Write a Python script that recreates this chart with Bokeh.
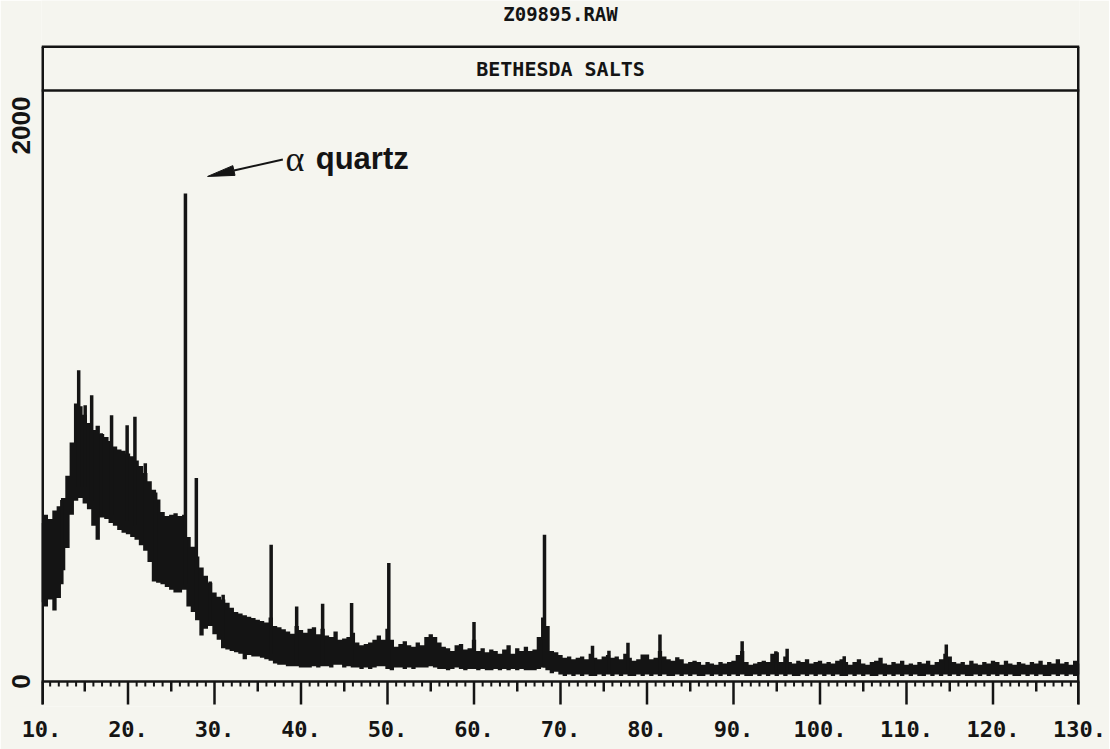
import math
from bokeh.plotting import figure
from bokeh.models import Range1d, FixedTicker, Span, Label
from bokeh.embed import file_html
from bokeh.resources import INLINE

BG = "#f5f5ef"
INK = "#141414"

scan_title = "Z09895.RAW"
sample_name = "BETHESDA SALTS"
annotation_symbol = "\u03b1"
annotation_text = "quartz"

# 2-theta sampling grid of the read-off envelope (degrees)
two_theta_start = 10.0
two_theta_step = 0.5

# upper edge of the dense noise band (counts), 10.0 .. 130.0 every 0.5 deg
upper = [
    570, 600, 585, 615, 630, 660, 740, 860, 1000, 990,
    960, 930, 905, 920, 890, 880, 865, 845, 835, 830,
    820, 810, 795, 775, 750, 720, 690, 655, 610, 595,
    600, 605, 595, 600, 520, 485, 450, 410, 380, 355,
    320, 305, 295, 283, 265, 250, 245, 238, 233, 228,
    222, 218, 212, 230, 200, 195, 188, 180, 172, 200,
    185, 175, 190, 195, 170, 190, 165, 160, 180, 150,
    155, 160, 175, 140, 130, 135, 140, 150, 165, 150,
    190, 150, 125, 135, 145, 130, 125, 140, 130, 160,
    170, 160, 140, 125, 120, 110, 130, 135, 115, 120,
    150, 110, 120, 105, 115, 110, 100, 115, 130, 100,
    120, 110, 125, 110, 115, 160, 230, 200, 110, 105,
    95, 85, 90, 80, 85, 90, 80, 100, 85, 80,
    90, 95, 85, 90, 80, 100, 85, 75, 80, 97,
    97, 80, 85, 110, 90, 80, 75, 87, 80, 65,
    70, 75, 70, 60, 70, 65, 60, 70, 65, 70,
    75, 95, 110, 70, 60, 65, 70, 75, 70, 100,
    105, 70, 90, 70, 65, 75, 70, 80, 65, 70,
    75, 65, 70, 65, 75, 80, 70, 60, 70, 80,
    65, 60, 70, 75, 85, 65, 60, 70, 65, 75,
    60, 65, 60, 70, 65, 75, 60, 70, 80, 100,
    90, 70, 65, 70, 60, 75, 65, 60, 70, 65,
    75, 70, 60, 75, 65, 60, 70, 65, 60, 70,
    65, 75, 60, 70, 65, 80, 65, 70, 60, 75,
    65,
]

# lower edge of the noise band (counts)
lower = [
    285, 270, 295, 255, 300, 400, 480, 600, 650, 660,
    640, 620, 560, 510, 590, 585, 570, 560, 545, 535,
    530, 520, 510, 490, 470, 430, 360, 355, 350, 340,
    330, 320, 320, 330, 270, 250, 220, 165, 190, 200,
    170, 150, 120, 115, 110, 105, 100, 80, 95, 90,
    90, 85, 80, 75, 65, 60, 60, 55, 55, 55,
    50, 50, 50, 55, 50, 55, 55, 50, 60, 60,
    50, 55, 50, 50, 45, 50, 45, 50, 55, 55,
    45, 40, 50, 50, 45, 50, 45, 50, 50, 50,
    55, 50, 45, 45, 40, 45, 50, 45, 40, 45,
    45, 40, 45, 40, 40, 45, 40, 45, 40, 45,
    40, 45, 40, 40, 40, 45, 50, 40, 30, 35,
    25, 20, 25, 20, 25, 20, 25, 20, 20, 25,
    20, 25, 20, 25, 20, 25, 20, 20, 25, 20,
    25, 20, 25, 20, 25, 20, 20, 25, 20, 25,
    20, 25, 20, 20, 25, 20, 25, 20, 25, 20,
    25, 20, 25, 20, 20, 25, 20, 25, 20, 25,
    20, 25, 20, 25, 20, 20, 25, 20, 25, 20,
    25, 20, 25, 20, 25, 20, 20, 25, 20, 25,
    20, 25, 20, 20, 25, 20, 25, 20, 25, 20,
    25, 20, 25, 20, 20, 25, 20, 25, 20, 25,
    20, 25, 20, 25, 20, 20, 25, 20, 25, 20,
    25, 20, 25, 20, 25, 20, 20, 25, 20, 25,
    20, 25, 20, 20, 25, 20, 25, 20, 25, 20,
    25,
]

two_theta = [two_theta_start + i * two_theta_step for i in range(len(upper))]

# sharp reflections: position (deg), top (counts), foot in band (counts)
peak_pos = [12.35, 14.3, 15.05, 15.8, 16.9, 18.1, 19.9, 20.8, 22.0, 23.2,
            26.64, 27.9, 29.5, 31.0, 36.55, 39.5, 42.5, 45.85, 50.15, 60.0,
            68.15, 73.7, 75.6, 77.8, 81.5, 91.0, 94.9, 96.2, 102.8, 114.6]
peak_top = [653, 1120, 994, 1030, 893, 958, 922, 952, 785, 680,
            1756, 732, 360, 312, 492, 270, 280, 282, 426, 214,
            528, 129, 111, 139, 169, 145, 109, 118, 91, 133]
peak_base = [350, 700, 700, 650, 600, 600, 580, 560, 500, 400,
             350, 250, 200, 150, 100, 60, 60, 60, 50, 50,
             50, 30, 30, 30, 30, 30, 30, 30, 30, 30]

x_ticks = [10, 20, 30, 40, 50, 60, 70, 80, 90, 100, 110, 120, 130]
x_tick_labels = ["10.", "20.", "30.", "40.", "50.", "60.", "70.", "80.",
                 "90.", "100.", "110.", "120.", "130."]
x_mid_ticks = [15, 25, 35, 45, 55, 65, 75, 85, 95, 105, 115, 125]
x_minor_ticks = [t for t in range(10, 131) if t % 5]
y_ticks = [0, 2000]
y_tick_labels = ["0", "2000"]

x_min, x_max = 10, 130
y_panel_top = 2126     # line under the header band
y_header_top = 2284    # top line of the boxed plot
y_canvas_top = 2450    # top edge of the drawing area (room for the file name)
y_canvas_bottom = -90  # room under the zero line for the tick marks
y_title = 2400

arrow_tail = (37.9, 1878)
arrow_tip = (29.2, 1817)
alpha_x, quartz_x, annot_y = 38.2, 41.7, 1881

FRAME_W, FRAME_H = 1038, 706
TICK_MAJOR_PX, TICK_MID_PX, TICK_MINOR_PX = 23, 10, 5

p = figure(frame_width=FRAME_W, frame_height=FRAME_H,
           x_range=Range1d(x_min, x_max),
           y_range=Range1d(y_canvas_bottom, y_canvas_top),
           output_backend="svg", toolbar_location=None,
           min_border_left=41, min_border_right=30, min_border_top=0,
           min_border_bottom=43,
           background_fill_color=BG, border_fill_color=BG,
           outline_line_color=None)
p.xgrid.visible = False
p.ygrid.visible = False

sx = FRAME_W / (x_max - x_min)
sy = FRAME_H / (y_canvas_top - y_canvas_bottom)

# x axis: labels only (line and ticks are drawn as marks below)
xa = p.xaxis[0]
xa.ticker = FixedTicker(ticks=x_ticks, minor_ticks=[])
xa.major_label_overrides = {t: s for t, s in zip(x_ticks, x_tick_labels)}
xa.axis_line_color = None
xa.major_tick_line_color = None
xa.minor_tick_line_color = None
xa.major_tick_in = 0
xa.major_tick_out = 0
xa.minor_tick_in = 0
xa.minor_tick_out = 0
xa.major_label_standoff = 14
xa.major_label_text_font = "DejaVu Sans Mono"
xa.major_label_text_font_style = "bold"
xa.major_label_text_font_size = "22px"
xa.major_label_text_color = INK

ya = p.yaxis[0]
ya.ticker = FixedTicker(ticks=y_ticks, minor_ticks=[])
ya.major_label_overrides = {t: s for t, s in zip(y_ticks, y_tick_labels)}
ya.major_label_orientation = "vertical"
ya.axis_line_color = None
ya.major_tick_in = 0
ya.major_tick_out = 0
ya.minor_tick_in = 0
ya.minor_tick_out = 0
ya.major_label_standoff = 11
ya.major_label_text_font = "Liberation Sans"
ya.major_label_text_font_style = "bold"
ya.major_label_text_font_size = "26px"
ya.major_label_text_color = INK

# zero line and its tick marks
p.add_layout(Span(location=0, dimension="width", line_color=INK, line_width=2.5))
p.segment(x0=x_minor_ticks, y0=[0] * len(x_minor_ticks), x1=x_minor_ticks,
          y1=[-TICK_MINOR_PX / sy] * len(x_minor_ticks),
          line_width=2, line_color=INK)
p.segment(x0=x_mid_ticks, y0=[0] * len(x_mid_ticks), x1=x_mid_ticks,
          y1=[-TICK_MID_PX / sy] * len(x_mid_ticks),
          line_width=2.5, line_color=INK)
p.segment(x0=x_ticks, y0=[0] * len(x_ticks), x1=x_ticks,
          y1=[-TICK_MAJOR_PX / sy] * len(x_ticks),
          line_width=2.5, line_color=INK)

# box: left and right sides, top line, line under the header band
p.segment(x0=[x_min, x_max], y0=[-TICK_MAJOR_PX / sy] * 2, x1=[x_min, x_max],
          y1=[y_header_top, y_header_top], line_width=5, line_color=INK)
p.add_layout(Span(location=y_header_top, dimension="width",
                  line_color=INK, line_width=2.5))
p.add_layout(Span(location=y_panel_top, dimension="width",
                  line_color=INK, line_width=2.5))

# diffraction trace
p.varea_step(x=two_theta, y1=lower, y2=upper, step_mode="center",
             fill_color=INK)
p.segment(x0=peak_pos, y0=peak_base, x1=peak_pos, y1=peak_top,
          line_width=3.5, line_color=INK)

# texts
p.add_layout(Label(x=(x_min + x_max) / 2, y=y_title,
                   text=scan_title, text_align="center", text_baseline="middle",
                   text_font="DejaVu Sans Mono", text_font_style="bold",
                   text_font_size="19px", text_color=INK))
p.add_layout(Label(x=(x_min + x_max) / 2, y=(y_panel_top + y_header_top) / 2,
                   text=sample_name, text_align="center", text_baseline="middle",
                   text_font="DejaVu Sans Mono", text_font_style="bold",
                   text_font_size="20px", text_color=INK))

# arrow to the quartz reflection
tx, ty = arrow_tail[0] * sx, arrow_tail[1] * sy
hx, hy = arrow_tip[0] * sx, arrow_tip[1] * sy
d = math.hypot(hx - tx, hy - ty)
ux, uy = (hx - tx) / d, (hy - ty) / d
nx, ny = -uy, ux
head_len, head_w = 27, 10
bx, by = hx - ux * head_len, hy - uy * head_len
p.line(x=[arrow_tail[0], bx / sx], y=[arrow_tail[1], by / sy],
       line_width=2, line_color=INK)
p.patch(x=[arrow_tip[0], (bx + nx * head_w / 2) / sx, (bx - nx * head_w / 2) / sx],
        y=[arrow_tip[1], (by + ny * head_w / 2) / sy, (by - ny * head_w / 2) / sy],
        fill_color=INK, line_color=INK, line_width=1)

p.add_layout(Label(x=alpha_x, y=annot_y, text=annotation_symbol,
                   text_align="left", text_baseline="alphabetic",
                   text_font="Liberation Serif", text_font_size="36px",
                   text_color=INK))
p.add_layout(Label(x=quartz_x, y=annot_y, text=annotation_text,
                   text_align="left", text_baseline="alphabetic",
                   text_font="Liberation Sans", text_font_style="bold",
                   text_font_size="31px", text_color=INK))

html = file_html(p, INLINE)
html = html.replace("<body>", '<body style="background-color:%s;">' % BG, 1)
open("out.html", "w").write(html)
